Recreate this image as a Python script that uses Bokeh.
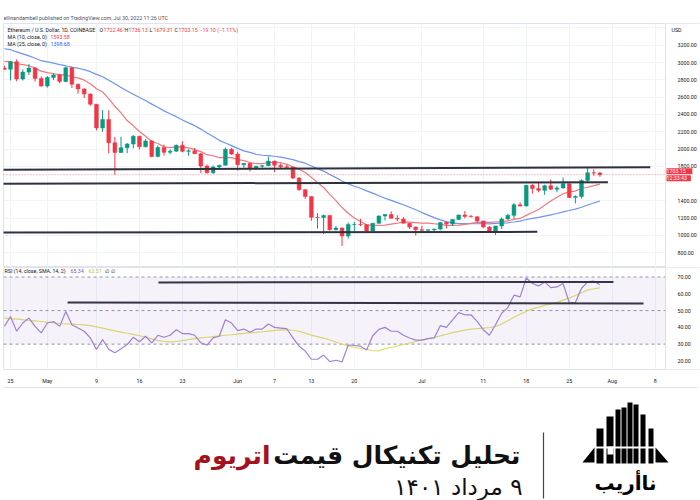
import numpy as np
import pandas as pd
from bokeh.plotting import figure
from bokeh.layouts import column
from bokeh.models import (ColumnDataSource, Range1d, FixedTicker, NumeralTickFormatter,
                          Span, Label, BoxAnnotation)
from bokeh.core.properties import value
from bokeh.embed import file_html
from bokeh.resources import INLINE

# ---------------- data (ETH/USD daily, Coinbase) ----------------
FIRST_DAY = "2022-04-24"
REF_DAY = "2022-04-25"

opens = [2937, 2922, 3008, 2809, 2889, 2936, 2816,
         2728, 2826, 2857, 2781, 2940, 2749, 2694, 2635, 2518, 2243, 2342, 2072, 1961, 2014, 2057,
         2148, 2026, 2092, 1913, 2018, 1962, 1975, 2042, 1973, 1979, 1945, 1803, 1726, 1793, 1812, 1996,
         1941, 1817, 1834, 1775, 1801, 1806, 1860, 1812, 1794, 1789, 1664, 1530, 1450, 1210, 1207, 1232,
         1067, 1086, 995, 1127, 1127, 1125, 1053, 1141, 1225, 1242, 1198, 1191, 1141, 1098,
         1067, 1060, 1066, 1074, 1150, 1133, 1186, 1237, 1221, 1216, 1168, 1098, 1038, 1111, 1191, 1233,
         1355, 1340, 1581, 1543, 1522, 1576, 1535, 1550, 1598, 1440, 1451, 1637, 1725, 1722.46]
highs = [2963, 3018, 3036, 2921, 2981, 2944, 2840,
         2844, 2875, 2870, 2955, 2955, 2757, 2703, 2645, 2520, 2450, 2447, 2140, 2142, 2070, 2160,
         2148, 2115, 2105, 2042, 2052, 1996, 2053, 2090, 1997, 2012, 1956, 1822, 1808, 1817, 2017, 2013,
         1970, 1838, 1840, 1805, 1818, 1912, 1865, 1834, 1819, 1793, 1675, 1534, 1450, 1260, 1241, 1235,
         1110, 1094, 1150, 1159, 1193, 1131, 1146, 1233, 1248, 1278, 1234, 1212, 1143, 1102,
         1112, 1072, 1081, 1152, 1163, 1191, 1241, 1283, 1237, 1221, 1170, 1108, 1111, 1208, 1251, 1375,
         1384, 1584, 1593, 1620, 1587, 1648, 1575, 1670, 1600, 1464, 1650, 1785, 1765, 1736.13]
lows = [2911, 2792, 2783, 2792, 2855, 2780, 2720,
        2709, 2796, 2760, 2771, 2705, 2640, 2590, 2500, 2215, 2199, 1951, 1704, 1953, 1952, 2008,
        1993, 2019, 1904, 1904, 1924, 1939, 1967, 1962, 1923, 1945, 1720, 1714, 1710, 1779, 1811, 1931,
        1750, 1783, 1740, 1757, 1782, 1805, 1733, 1770, 1776, 1652, 1517, 1424, 1170, 1080, 1017, 1057,
        1058, 880, 965, 1052, 1108, 1044, 1050, 1136, 1175, 1196, 1167, 1138, 1073, 1000,
        1030, 1036, 1045, 1061, 1081, 1111, 1181, 1199, 1209, 1151, 1086, 1035, 1006, 1076, 1180, 1191,
        1338, 1338, 1483, 1500, 1470, 1525, 1500, 1540, 1435, 1370, 1430, 1620, 1690, 1679.31]
closes = [2922, 3008, 2809, 2889, 2936, 2816, 2728,
          2826, 2857, 2781, 2940, 2749, 2694, 2635, 2518, 2243, 2342, 2072, 1961, 2014, 2057, 2148,
          2026, 2092, 1913, 2018, 1962, 1975, 2042, 1973, 1979, 1945, 1803, 1726, 1793, 1812, 1996, 1941,
          1817, 1834, 1775, 1801, 1806, 1860, 1812, 1794, 1789, 1664, 1530, 1450, 1210, 1207, 1232, 1067,
          1086, 995, 1127, 1127, 1125, 1053, 1141, 1225, 1242, 1198, 1191, 1141, 1098, 1067,
          1060, 1066, 1074, 1150, 1133, 1186, 1237, 1221, 1216, 1168, 1098, 1038, 1111, 1191, 1233, 1355,
          1340, 1581, 1543, 1522, 1576, 1535, 1550, 1598, 1440, 1451, 1637, 1725, 1723, 1703.15]
ma10 = [3014, 3011, 2986, 2975, 2963, 2935, 2900, 2884, 2873, 2857, 2859, 2833, 2822, 2796, 2754,
        2697, 2659, 2583, 2494, 2417, 2329, 2268, 2202, 2147, 2087, 2064, 2026, 2017, 2025, 2021, 2013,
        1993, 1970, 1934, 1922, 1901, 1904, 1901, 1879, 1865, 1844, 1830, 1830, 1844, 1845, 1844, 1823,
        1795, 1767, 1728, 1672, 1612, 1555, 1476, 1403, 1323, 1257, 1203, 1163, 1123, 1116, 1118, 1119,
        1132, 1142, 1157, 1154, 1148, 1142, 1143, 1136, 1129, 1118, 1117, 1121, 1129, 1141, 1151, 1155,
        1152, 1156, 1160, 1170, 1187, 1197, 1233, 1266, 1301, 1349, 1399, 1443, 1483, 1504, 1514, 1543,
        1558, 1576, 1593.58]
ma25 = [3159, 3148, 3123, 3100, 3077, 3049, 3021, 3008, 2993, 2976, 2963, 2945, 2934, 2918, 2894,
        2863, 2835, 2795, 2754, 2712, 2670, 2633, 2595, 2560, 2519, 2483, 2441, 2408, 2374, 2335, 2302,
        2270, 2230, 2184, 2145, 2100, 2070, 2039, 2007, 1979, 1961, 1939, 1928, 1924, 1916, 1906, 1891,
        1877, 1854, 1836, 1804, 1773, 1744, 1705, 1669, 1630, 1597, 1570, 1546, 1516, 1490, 1459, 1431,
        1406, 1380, 1355, 1327, 1297, 1265, 1235, 1207, 1181, 1160, 1146, 1138, 1138, 1138, 1136, 1137,
        1135, 1140, 1142, 1147, 1156, 1167, 1185, 1198, 1209, 1224, 1238, 1254, 1274, 1289, 1305, 1327,
        1353, 1376, 1398.68]
rsi = [40.6, 46.5, 37.7, 42.6, 45.5, 40.6, 36.7, 42.6, 43.5, 40.6, 49.4, 41.6, 39.6, 37.7, 33.7,
       26.9, 32.8, 26.9, 24.9, 27.3, 29.8, 34.1, 31.4, 34.7, 30.8, 35.3, 34.1, 35.3, 38.6, 36.3, 36.3,
       35.3, 30.8, 29.4, 33.7, 34.7, 44.5, 42.6, 38.1, 39.0, 37.1, 39.0, 39.0, 42.0, 40.0, 39.6, 39.2,
       33.7, 28.8, 25.9, 21.0, 21.0, 23.5, 19.6, 20.4, 19.4, 29.5, 29.2, 28.8, 26.5, 35.0, 38.8, 40.0,
       37.7, 37.7, 35.3, 33.7, 32.4, 32.4, 33.3, 33.7, 41.0, 40.0, 44.5, 48.8, 47.5, 47.5, 43.6, 38.6,
       35.3, 41.6, 48.4, 51.8, 59.2, 58.2, 69.4, 66.1, 64.7, 67.1, 63.7, 64.1, 66.1, 54.8, 54.8, 63.3,
       67.1, 67.5, 65.34]
rsi_sma = [45.5, 45.2, 44.9, 44.6, 44.2, 43.9, 43.5, 43.1, 42.7, 42.3, 42.0, 41.9, 41.7, 41.5, 41.0,
           40.3, 39.5, 38.7, 37.9, 37.2, 36.5, 35.8, 35.0, 34.1, 33.1, 32.3, 31.6, 31.4, 31.6, 32.1, 32.7,
           33.3, 33.8, 34.1, 34.5, 34.9, 35.3, 35.6, 36.0, 36.4, 36.7, 37.0, 37.4, 37.8, 38.2, 38.5, 38.6,
           38.3, 37.6, 36.6, 35.4, 34.5, 33.6, 32.5, 31.3, 30.1, 28.9, 28.1, 27.4, 26.9, 26.1, 26.0, 27.3,
           28.0, 28.9, 29.8, 30.7, 31.6, 32.4, 33.2, 34.0, 34.9, 35.9, 36.9, 37.6, 38.4, 38.9, 39.2, 39.6,
           39.9, 40.5, 42.0, 44.0, 46.0, 47.8, 49.5, 51.0, 52.0, 53.1, 54.0, 54.9, 56.2, 57.5, 59.0, 60.6,
           62.2, 63.0, 63.51]

# hand-drawn analyst lines (day offsets from REF_DAY, price / RSI levels)
price_line_x0 = [-1.2, -1.2, -1.2]
price_line_x1 = [104.2, 97.3, 85.8]
price_line_y0 = [1760, 1598, 1035]
price_line_y1 = [1790, 1616, 1042]
rsi_line_x0 = [24.1, 9.3]
rsi_line_x1 = [98.2, 103.1]
rsi_line_y0 = [66.8, 54.8]
rsi_line_y1 = [67.1, 54.2]

tick_dates = ["2022-04-25", "2022-05-01", "2022-05-09", "2022-05-16", "2022-05-23", "2022-06-01",
              "2022-06-07", "2022-06-13", "2022-06-20", "2022-07-01", "2022-07-11", "2022-07-18",
              "2022-07-25", "2022-08-01", "2022-08-08"]
tick_labels = ["25", "May", "9", "16", "23", "Jun", "7", "13", "20", "Jul", "11", "18", "25", "Aug", "8"]
price_ticks = [800, 1000, 1200, 1400, 1800, 2000, 2200, 2400, 2600, 2800, 3000, 3200]
price_grid = [800, 1000, 1200, 1400, 1600, 1800, 2000, 2200, 2400, 2600, 2800, 3000, 3200, 3400]
rsi_ticks = [20, 30, 40, 50, 60, 70]
rsi_levels = [70, 50, 30]
last_price = 1703.15

title_black = "تحلیل تکنیکال قیمت"
title_red = "اتریوم"
date_line = "\u200f۹ مرداد ۱۴۰۱"
logo_text = "ناأریب"

# ---------------- derived ----------------
ref = pd.Timestamp(REF_DAY)
dates = pd.date_range(FIRST_DAY, periods=len(closes), freq="D")
days = np.asarray((dates - ref).days, dtype=float)
tick_days = [int((pd.Timestamp(t) - ref).days) for t in tick_dates]

UP = "#089981"
DOWN = "#F23645"
FONT = "Roboto"
SMALL = "5.3px"
TXT = "#131722"
X0, X1 = -1.14, 112.38     # frame spans page x 3..700
AXIS_X = 106.68            # price scale starts at page x 665

o = np.array(opens, float)
c = np.array(closes, float)
src = ColumnDataSource(dict(x=days, h=highs, l=lows,
                            top=np.maximum(o, c), bot=np.minimum(o, c),
                            color=np.where(c >= o, UP, DOWN)))

xr = Range1d(X0, X1)


def style_axis(a):
    a.axis_line_color = None
    a.major_tick_line_color = None
    a.minor_tick_line_color = None
    a.major_label_text_font_size = SMALL
    a.major_label_text_font = FONT
    a.major_label_text_color = TXT


def lab(fig, x, y, text, color=TXT, size=SMALL, yu="screen", yo=0, bg=None):
    fig.add_layout(Label(x=x, y=y, x_units="screen", y_units=yu, text=text, text_color=color,
                         text_font=FONT, text_font_size=size, text_baseline="middle",
                         y_offset=yo, background_fill_color=bg))


# ---------------- header ----------------
hd = figure(width=700, height=23, x_range=Range1d(3, 700), y_range=Range1d(23, 0),
            x_axis_location=None, y_axis_location=None, toolbar_location=None,
            output_backend="svg", title=None, min_border_left=3, min_border_right=0,
            min_border_top=0, min_border_bottom=0)
hd.grid.visible = False
hd.outline_line_color = None
hd.text(x=[3], y=[17], text=["ellinandambell published on TradingView.com, Jul 30, 2022 11:26 UTC"],
        text_font=value(FONT), text_font_size=SMALL, text_color="#50535e", text_baseline="middle")

# ---------------- price panel (frame: page y 23..267) ----------------
p = figure(width=700, height=244, x_range=xr, y_range=Range1d(630, 3451),
           y_axis_location="right", x_axis_location=None, toolbar_location=None,
           output_backend="svg", title=None, min_border_left=3, min_border_right=0,
           min_border_top=0, min_border_bottom=0)
p.outline_line_color = "#e0e3eb"
p.xgrid.ticker = FixedTicker(ticks=tick_days)
p.ygrid.ticker = FixedTicker(ticks=price_grid)
p.xgrid.grid_line_color = "#f0f3fa"
p.ygrid.grid_line_color = "#f0f3fa"
p.add_layout(BoxAnnotation(left=AXIS_X, fill_color="white", fill_alpha=1, line_color=None,
                           level="underlay"))
p.add_layout(Span(location=AXIS_X, dimension="height", line_color="#e0e3eb", line_width=1))
ax = p.yaxis[0]
ax.fixed_location = AXIS_X
ax.ticker = FixedTicker(ticks=price_ticks)
ax.formatter = NumeralTickFormatter(format="0.00")
style_axis(ax)
ax.major_label_standoff = 6

p.line(days, ma25, line_color="#6f93f6", line_width=1.2)
p.line(days, ma10, line_color="#f2777f", line_width=1.2)
p.segment(x0="x", y0="l", x1="x", y1="h", source=src, line_color="color", line_width=1)
p.vbar(x="x", width=0.62, top="top", bottom="bot", source=src, fill_color="color",
       line_color="color", line_width=0.5)
p.segment(x0=[X0], y0=[last_price], x1=[AXIS_X], y1=[last_price], line_color=DOWN,
          line_alpha=0.6, line_dash="1 2", line_width=1)
p.segment(x0=price_line_x0, y0=price_line_y0, x1=price_line_x1, y1=price_line_y1,
          line_color="#2f323c", line_width=2)

lab(p, 4, 238, "Ethereum / U.S. Dollar, 1D, COINBASE")
for letter, num, xx in [("O", "1722.46", 96), ("H", "1736.13", 121), ("L", "1679.31", 146),
                        ("C", "1703.15", 171)]:
    lab(p, xx, 238, letter)
    lab(p, xx + 4, 238, num, DOWN)
lab(p, 196, 238, "−19.10 (−1.11%)", DOWN)
lab(p, 4, 231, "MA (10, close, 0)")
lab(p, 47, 231, "1593.58", DOWN)
lab(p, 4, 224, "MA (25, close, 0)")
lab(p, 47, 224, "1398.68", "#2962FF")
lab(p, 668, 238, "USD")
p.add_layout(Label(x=663, y=last_price, x_units="screen", y_units="data", text=" 1703.15    ",
                   text_color="white", text_font=FONT, text_font_size=SMALL,
                   text_baseline="middle", y_offset=3.5, background_fill_color=DOWN))
p.add_layout(Label(x=663, y=last_price, x_units="screen", y_units="data", text=" 12:33:43  ",
                   text_color="white", text_font=FONT, text_font_size=SMALL,
                   text_baseline="middle", y_offset=-3.5, background_fill_color=DOWN))

# ---------------- RSI panel (frame: page y 267..371) ----------------
r = figure(width=700, height=119, x_range=xr, y_range=Range1d(14.9, 75.67),
           y_axis_location="right", toolbar_location=None, output_backend="svg", title=None,
           min_border_left=3, min_border_right=0, min_border_top=0, min_border_bottom=15)
r.outline_line_color = "#e0e3eb"
r.xgrid.ticker = FixedTicker(ticks=tick_days)
r.xgrid.grid_line_color = "#f0f3fa"
r.ygrid.grid_line_color = None
r.add_layout(BoxAnnotation(left=AXIS_X, fill_color="white", fill_alpha=1, line_color=None,
                           level="underlay"))
r.add_layout(Span(location=AXIS_X, dimension="height", line_color="#e0e3eb", line_width=1))
ry = r.yaxis[0]
ry.fixed_location = AXIS_X
ry.ticker = FixedTicker(ticks=rsi_ticks)
ry.formatter = NumeralTickFormatter(format="0.00")
rx = r.xaxis[0]
rx.ticker = FixedTicker(ticks=tick_days)
rx.major_label_overrides = {d: t for d, t in zip(tick_days, tick_labels)}
style_axis(rx)
style_axis(ry)
ry.major_label_standoff = 6
rx.major_label_standoff = 2

r.add_layout(BoxAnnotation(bottom=30, top=70, right=AXIS_X, fill_color="#7E57C2",
                           fill_alpha=0.08, line_color=None))
r.segment(x0=[X0] * 3, y0=rsi_levels, x1=[AXIS_X] * 3, y1=rsi_levels, line_color="#9598a1",
          line_dash="3 3", line_width=1)
r.line(days, rsi_sma, line_color="#e3e06a", line_width=1.2)
r.line(days, rsi, line_color="#a285d6", line_width=1.2)
r.segment(x0=rsi_line_x0, y0=rsi_line_y0, x1=rsi_line_x1, y1=rsi_line_y1,
          line_color="#2f323c", line_width=2)
lab(r, 1, 99, "RSI (14, close, SMA, 14, 2)")
lab(r, 67, 99, "65.34", "#7E57C2")
lab(r, 85, 99, "63.51", "#c9c23a")
lab(r, 101, 99, "∅")
lab(r, 107, 99, "∅")

# ---------------- footer ----------------
f = figure(width=700, height=114, x_range=Range1d(3, 700), y_range=Range1d(500, 386),
           x_axis_location=None, y_axis_location=None, toolbar_location=None,
           output_backend="svg", title=None, min_border_left=3, min_border_right=0,
           min_border_top=0, min_border_bottom=0)
f.grid.visible = False
f.outline_line_color = None
f.segment(x0=[3], y0=[387], x1=[697], y1=[387], line_color="#e0e3eb", line_width=1)
FA = value("DejaVu Sans")
f.text(x=[520], y=[455], text=[title_black], text_font=FA, text_font_style="bold",
       text_font_size="25px", text_color="#111111", text_align="right", text_baseline="middle")
f.text(x=[270], y=[455], text=[title_red], text_font=FA, text_font_style="bold",
       text_font_size="25px", text_color="#a3121c", text_align="right", text_baseline="middle")
f.text(x=[522], y=[486], text=[date_line], text_font=FA, text_font_size="23px",
       text_color="#111111", text_align="right", text_baseline="middle")
f.segment(x0=[543], y0=[432], x1=[543], y1=[498], line_color="#444444", line_width=1.2)

# logo (decorative)
bl = [596, 606, 615, 621, 627, 633, 640, 648]
br = [603, 613, 620, 626, 632, 638, 645, 653]
bt = [428, 416, 409, 407, 402, 404, 414, 428]
f.quad(left=bl, right=br, top=bt, bottom=[463] * len(bl), fill_color="black", line_color=None)
f.quad(left=[594], right=[655], top=[446], bottom=[448], fill_color="white", line_color=None)
f.quad(left=[607], right=[613], top=[446], bottom=[454], fill_color="white", line_color=None)
f.patches(xs=[[582, 594, 594], [655, 655, 668]], ys=[[462, 447, 462], [447, 462, 462]],
          fill_color="black", line_color=None)
f.text(x=[625], y=[482], text=[logo_text], text_font=FA, text_font_style="bold",
       text_font_size="20px", text_color="black", text_align="center", text_baseline="middle")

layout = column(hd, p, r, f, spacing=0)
open("out.html", "w").write(file_html(layout, INLINE))
